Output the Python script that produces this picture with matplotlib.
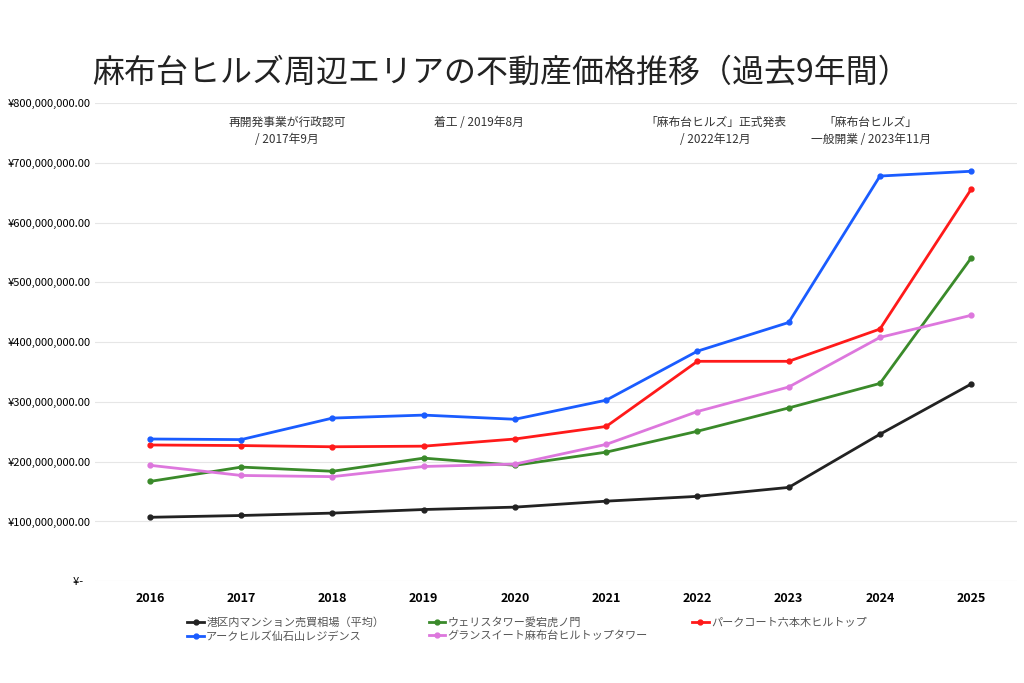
import matplotlib
matplotlib.use('Agg')
import matplotlib.pyplot as plt
from matplotlib.ticker import FuncFormatter

plt.rcParams['font.family'] = ['Noto Sans CJK JP', 'DejaVu Sans']

years = [2016, 2017, 2018, 2019, 2020, 2021, 2022, 2023, 2024, 2025]
minato_avg = [107, 110, 114, 120, 124, 134, 142, 157, 246, 330]
wellith = [167, 191, 184, 206, 194, 216, 251, 290, 331, 541]
parkcourt = [228, 227, 225, 226, 238, 259, 368, 368, 422, 656]
ark_hills = [238, 237, 273, 278, 271, 303, 385, 433, 678, 686]
grand_suite = [194, 177, 175, 192, 196, 229, 284, 325, 408, 445]

series = [
    ('港区内マンション売買相場（平均）', minato_avg, '#222222'),
    ('ウェリスタワー愛宕虎ノ門', wellith, '#3a8a2a'),
    ('パークコート六本木ヒルトップ', parkcourt, '#ff1a1a'),
    ('アークヒルズ仙石山レジデンス', ark_hills, '#1a5cff'),
    ('グランスイート麻布台ヒルトップタワー', grand_suite, '#dd77dd'),
]

notes = [
    (2017.5, '再開発事業が行政認可\n/ 2017年9月'),
    (2019.6, '着工 / 2019年8月'),
    (2022.2, '「麻布台ヒルズ」正式発表\n/ 2022年12月'),
    (2023.9, '「麻布台ヒルズ」\n一般開業 / 2023年11月'),
]

fig = plt.figure(figsize=(10.24, 6.83), dpi=100)
ax = fig.add_axes([0.093, 0.149, 0.9, 0.70])

lines = []
for label, vals, color in series:
    ln, = ax.plot(years, [v * 1e6 for v in vals], color=color, lw=2, marker='o', ms=3.5, label=label)
    lines.append(ln)

ax.set_ylim(0, 800e6)
ax.set_xlim(2015.4, 2025.5)
ax.set_yticks([i * 100e6 for i in range(9)])
ax.yaxis.set_major_formatter(FuncFormatter(lambda v, p: '¥-   ' if v == 0 else f'¥{v:,.2f}'))
ax.set_xticks(years)
ax.tick_params(length=0, labelsize=8)
ax.tick_params(axis='x', pad=8, labelsize=9)
for t in ax.get_xticklabels():
    t.set_fontweight('bold')
ax.grid(axis='y', color='#e6e6e6', lw=0.8)
for s in ax.spines.values():
    s.set_visible(False)

for x, text in notes:
    ax.text(x, 778e6, text, ha='center', va='top', fontsize=8.5, color='#333333', linespacing=1.4)

fig.text(0.09, 0.88, '麻布台ヒルズ周辺エリアの不動産価格推移（過去9年間）', fontsize=23, color='#222222')

order = [0, 3, 1, 4, 2]
ax.legend([lines[i] for i in order], [series[i][0] for i in order],
          loc='upper left', bbox_to_anchor=(0.095, -0.065), ncol=3, frameon=False,
          fontsize=8, labelcolor='#555555', handlelength=1.5, handletextpad=0.2,
          columnspacing=4, borderaxespad=0, labelspacing=0.3)

fig.savefig('out.png', dpi=100)
